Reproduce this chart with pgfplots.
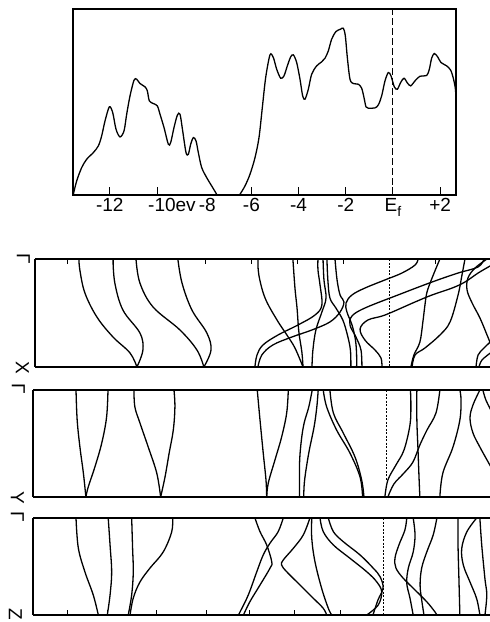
\documentclass[border=0pt]{standalone}
\usepackage{fontspec}
\setmainfont{Liberation Sans}
\usepackage{pgfplots}
\pgfplotsset{compat=1.18}
\pgfplotscreateplotcyclelist{bandlist}{{black,line width=1.3pt,smooth,tension=0.6,mark=none}\\}
\pgfplotsset{
  band/.style={
    scale only axis, anchor=south west,
    ymin=0, ymax=1, y dir=reverse,
    axis x line=box, axis y line=left,
    axis line style={-, line width=1.1pt},
    x axis line style={-}, y axis line style={-},
    ytick=\empty, xticklabels={},
    tick align=inside, major tick length=5pt,
    tick style={line width=1pt, black},
    cycle list name=bandlist,
  },
}
\begin{document}
\begin{tikzpicture}[x=1pt,y=1pt]
\useasboundingbox (0pt,0pt) rectangle (490pt,622pt);

% ---------------- density of states ----------------
\begin{axis}[
  at={(73pt,427pt)}, anchor=south west, scale only axis,
  width=383pt, height=186pt,
  xmin=-13.56, xmax=2.67, ymin=-0.4, ymax=101,
  ytick=\empty,
  xtick={-12,-10,-6,-4,-2,0,2},
  xticklabels={-12,,-6,-4,-2,{E\raisebox{-5pt}{\fontsize{14}{16}\selectfont f}},+2},
  extra x ticks={-8.94}, extra x tick labels={-10ev\,-8},
  extra x tick style={major tick length=0pt},
  xtick pos=left, tick align=inside, major tick length=8pt,
  tick style={line width=1pt, black},
  axis line style={line width=1.1pt},
  xticklabel style={font=\fontsize{19}{22}\selectfont},
]
\addplot[black, line width=1.3pt, smooth, tension=0.5, mark=none] coordinates {
(-13.545,0) (-13.404,7.27) (-13.192,14.55) (-12.980,19.09) (-12.698,22.73)
(-12.486,26.36) (-12.345,31.82) (-12.203,40.0) (-12.020,47.64) (-11.878,44.55)
(-11.737,35.45) (-11.568,31.27) (-11.398,34.55) (-11.285,43.64) (-11.144,53.64)
(-10.975,62.18) (-10.862,62.73) (-10.720,60.36) (-10.508,58.55) (-10.410,56.36)
(-10.325,50.91) (-10.155,49.45) (-9.986,48.18) (-9.873,43.64) (-9.703,36.36)
(-9.520,27.27) (-9.421,28.18) (-9.280,36.36) (-9.138,43.09) (-9.025,43.64)
(-8.912,34.55) (-8.771,22.73) (-8.672,21.82) (-8.573,27.27) (-8.460,30.91)
(-8.347,29.09) (-8.249,22.73) (-8.107,14.55) (-7.895,9.09) (-7.684,4.55)
(-7.472,0) };
\addplot[black, line width=1.3pt, mark=none] coordinates {(-7.472,0) (-6.483,0)};
\addplot[black, line width=1.3pt, smooth, tension=0.5, mark=none] coordinates {
(-6.483,0) (-6.271,4.55) (-6.059,10.91) (-5.847,20.0) (-5.678,30.91)
(-5.537,47.27) (-5.395,63.64) (-5.212,76.0) (-5.071,74.55) (-4.929,68.18)
(-4.760,63.27) (-4.619,64.55) (-4.477,70.0) (-4.336,74.91) (-4.223,76.0)
(-4.082,71.82) (-3.941,62.73) (-3.828,53.64) (-3.729,51.82) (-3.588,57.27)
(-3.446,65.45) (-3.234,70.0) (-3.023,72.18) (-2.881,74.18) (-2.740,78.18)
(-2.599,84.55) (-2.415,88.73) (-2.218,90.0) (-2.105,90.55) (-2.020,86.36)
(-1.935,74.55) (-1.822,62.73) (-1.681,60.36) (-1.469,60.0) (-1.328,57.82)
(-1.229,52.73) (-1.144,47.64) (-1.045,46.91) (-0.763,47.09) (-0.621,48.73)
(-0.480,53.64) (-0.339,61.82) (-0.198,66.36) (-0.085,64.55) (0.056,58.55)
(0.184,57.27) (0.325,60.91) (0.466,63.27) (0.607,60.73) (0.749,59.09)
(0.932,61.82) (1.144,64.36) (1.427,64.73) (1.540,68.18) (1.638,74.18)
(1.751,76.73) (1.893,74.91) (2.034,71.82) (2.274,70.0) (2.444,67.64)
(2.556,63.27) (2.641,57.82) (2.669,52.73) };
\addplot[black, line width=1pt, dash pattern=on 7pt off 3pt, mark=none] coordinates {(0,-0.4) (0,101)};
\end{axis}

% ---------------- Gamma - X ----------------
\begin{axis}[band, at={(35pt,255pt)}, width=455pt, height=108pt,
  xmin=-15.43, xmax=4.348, xtick={-14,-12,-8,-6,-4,-2,2}, xtick pos=right]
\addplot coordinates {(-13.52,0) (-13.48,0.102) (-13.26,0.315) (-12.74,0.537) (-12.04,0.722) (-11.30,0.870) (-11.00,1)};
\addplot coordinates {(-12.04,0) (-11.96,0.222) (-11.61,0.472) (-10.87,0.685) (-10.74,0.843) (-11.00,1)};
\addplot coordinates {(-11.04,0) (-10.87,0.222) (-10.30,0.444) (-9.13,0.657) (-8.39,0.843) (-8.09,1)};
\addplot coordinates {(-9.22,0) (-9.04,0.222) (-8.61,0.472) (-7.96,0.685) (-7.78,0.843) (-8.09,1)};
\addplot coordinates {(-5.74,0) (-5.70,0.148) (-5.43,0.361) (-4.91,0.565) (-4.48,0.704) (-4.13,0.824) (-3.78,1)};
\addplot coordinates {(-4.22,0) (-4.13,0.269) (-4.04,0.454) (-3.96,0.676) (-3.83,0.861) (-3.78,1)};
\addplot coordinates {(-5.87,1) (-5.78,0.889) (-5.52,0.796) (-4.87,0.704) (-4.00,0.611) (-3.26,0.519) (-2.96,0.426) (-3.04,0.241) (-3.13,0.102) (-3.13,0)};
\addplot coordinates {(-5.74,1) (-5.57,0.889) (-5.09,0.796) (-4.26,0.722) (-3.39,0.657) (-2.61,0.583) (-2.17,0.491) (-2.00,0.398) (-2.17,0.333) (-2.30,0.194) (-2.39,0)};
\addplot coordinates {(-2.74,0) (-2.70,0.194) (-2.61,0.361) (-2.35,0.454) (-2.05,0.565) (-1.85,0.704) (-1.72,0.843) (-1.70,1)};
\addplot coordinates {(-2.91,0) (-2.87,0.194) (-2.78,0.361) (-2.96,0.491) (-3.22,0.657) (-3.35,0.843) (-3.39,1)};
\addplot coordinates {(1.22,0) (1.09,0.056) (0.52,0.130) (-0.22,0.194) (-1.09,0.269) (-1.65,0.333) (-1.91,0.407) (-1.87,0.491) (-1.65,0.611) (-1.50,0.750) (-1.45,0.889) (-1.45,1)};
\addplot coordinates {(4.09,0) (3.83,0.074) (2.96,0.130) (1.83,0.213) (0.35,0.333) (-1.09,0.454) (-1.65,0.528) (-1.74,0.611) (-1.48,0.722) (-1.26,0.843) (-1.22,1)};
\addplot coordinates {(4.35,0.065) (3.83,0.130) (3.26,0.213) (2.70,0.269) (1.83,0.333) (1.09,0.398) (-0.22,0.519) (-0.96,0.565) (-1.30,0.648) (-1.09,0.750) (-0.65,0.843) (-0.39,0.917) (-0.35,1)};
\addplot coordinates {(0.96,1) (1.09,0.889) (1.52,0.824) (2.17,0.704) (2.61,0.583) (2.96,0.333) (3.13,0.148) (3.26,0)};
\addplot coordinates {(2.17,0) (1.83,0.176) (1.61,0.306) (1.52,0.426) (1.43,0.583) (1.30,0.769) (1.04,0.889) (0.91,1)};
\addplot coordinates {(4.22,0) (3.70,0.083) (3.39,0.176) (3.35,0.287) (3.57,0.407) (3.91,0.546) (4.22,0.704) (4.40,0.80)};
\addplot coordinates {(3.74,1) (3.83,0.889) (4.09,0.824) (4.40,0.76)};
\addplot coordinates {(3.87,1) (4.0,0.935) (4.40,0.865)};
\addplot[black, line width=1pt, dash pattern=on 2pt off 1.5pt, mark=none] coordinates {(0,0) (0,1)};
\end{axis}

% ---------------- Gamma - Y ----------------
\begin{axis}[band, at={(33pt,125pt)}, width=457pt, height=107pt,
  xmin=-15.39, xmax=4.48, xtick=\empty]
\addplot coordinates {(-13.52,0) (-13.47,0.280) (-13.35,0.533) (-13.20,0.776) (-13.09,1)};
\addplot coordinates {(-12.13,0) (-12.19,0.252) (-12.40,0.495) (-12.70,0.720) (-12.99,0.907) (-13.09,1)};
\addplot coordinates {(-11.0,0) (-10.96,0.159) (-10.74,0.308) (-10.38,0.533) (-10.01,0.776) (-9.84,1)};
\addplot coordinates {(-9.26,0) (-9.22,0.159) (-9.29,0.374) (-9.47,0.589) (-9.65,0.813) (-9.84,1)};
\addplot coordinates {(-5.64,0) (-5.52,0.280) (-5.38,0.589) (-5.26,0.841) (-5.23,1)};
\addplot coordinates {(-4.29,0) (-4.36,0.215) (-4.58,0.439) (-4.87,0.654) (-5.16,0.869) (-5.23,1)};
\addplot coordinates {(-3.25,0) (-3.40,0.159) (-3.60,0.308) (-3.72,0.467) (-3.80,0.682) (-3.80,1)};
\addplot coordinates {(-2.99,0) (-3.05,0.159) (-3.17,0.346) (-3.40,0.589) (-3.58,0.841) (-3.62,1)};
\addplot coordinates {(-2.77,0) (-2.62,0.159) (-2.19,0.374) (-1.61,0.589) (-1.17,0.813) (-1.06,1)};
\addplot coordinates {(-2.48,0) (-2.33,0.215) (-1.90,0.402) (-1.39,0.626) (-1.10,0.841) (-1.0,1)};
\addplot coordinates {(-0.09,1) (0.04,0.841) (0.39,0.701) (0.74,0.561) (1.0,0.327) (1.04,0.140) (1.02,0)};
\addplot coordinates {(1.30,0) (1.30,0.280) (1.35,0.561) (1.39,0.794) (1.43,1)};
\addplot coordinates {(0.04,1) (0.30,0.879) (0.74,0.776) (1.13,0.673) (1.43,0.514) (1.74,0.374) (2.13,0.215) (2.30,0)};
\addplot coordinates {(2.30,1) (2.43,0.776) (2.87,0.533) (3.17,0.280) (3.22,0.093) (3.17,0)};
\addplot coordinates {(4.04,0) (3.74,0.140) (3.61,0.262) (3.74,0.402) (4.04,0.533) (4.35,0.654) (4.55,0.73)};
\addplot coordinates {(4.17,0) (4.30,0.093) (4.55,0.2)};
\addplot[black, line width=1pt, dash pattern=on 2pt off 1.5pt, mark=none] coordinates {(0,0) (0,0.85)};
\end{axis}

% ---------------- Gamma - Z ----------------
\begin{axis}[band, at={(33pt,7pt)}, width=457pt, height=97pt,
  xmin=-15.23, xmax=4.64, xtick={-13.75,-11.97,-9.84,-7.67,-5.8,-3.88,-1.88}, xtick pos=left]
\addplot coordinates {(-13.36,0) (-13.26,0.309) (-12.97,0.557) (-12.61,0.794) (-12.39,1)};
\addplot coordinates {(-11.96,0) (-11.88,0.278) (-11.81,0.557) (-11.88,0.794) (-12.0,1)};
\addplot coordinates {(-10.94,0) (-10.90,0.309) (-10.87,0.557) (-10.94,0.794) (-11.09,1)};
\addplot coordinates {(-9.16,0) (-9.20,0.144) (-9.57,0.351) (-10.14,0.515) (-10.58,0.660) (-10.87,0.825) (-11.01,1)};
\addplot coordinates {(-5.58,0) (-5.36,0.141) (-5.07,0.278) (-4.85,0.451) (-4.92,0.515) (-5.36,0.691) (-5.80,0.863) (-6.08,1)};
\addplot coordinates {(-4.35,0) (-4.57,0.141) (-4.93,0.261) (-5.22,0.381) (-5.50,0.554) (-5.87,0.794) (-6.23,0.969) (-6.30,1)};
\addplot coordinates {(-3.19,0) (-3.48,0.175) (-3.91,0.312) (-4.35,0.433) (-4.42,0.485) (-4.20,0.554) (-3.62,0.691) (-3.04,0.828) (-2.61,0.931) (-2.46,1)};
\addplot coordinates {(-3.11,0) (-3.11,0.209) (-2.97,0.451) (-2.68,0.725) (-2.39,0.931) (-2.24,1)};
\addplot coordinates {(-2.75,0) (-2.61,0.141) (-2.17,0.278) (-1.45,0.415) (-0.72,0.554) (-0.29,0.657) (-0.07,0.760) (-0.22,0.897) (-0.72,1)};
\addplot coordinates {(-2.39,0) (-2.17,0.141) (-1.74,0.244) (-1.01,0.381) (-0.43,0.519) (-0.14,0.605) (-0.01,0.722) (-0.23,0.845) (-0.45,1)};
\addplot coordinates {(1.02,0) (0.94,0.124) (0.68,0.278) (0.51,0.412) (0.55,0.515) (0.86,0.619) (1.38,0.742) (1.90,0.866) (2.25,0.969) (2.33,1)};
\addplot coordinates {(1.30,0) (1.38,0.175) (1.30,0.351) (1.09,0.515) (1.02,0.670) (1.16,0.825) (1.30,1)};
\addplot coordinates {(2.33,0) (2.17,0.175) (1.89,0.351) (1.67,0.515) (1.60,0.691) (1.67,0.845) (1.77,1)};
\addplot coordinates {(3.25,0) (3.25,0.278) (3.29,0.639) (3.33,1)};
\addplot coordinates {(4.06,0) (3.63,0.144) (3.41,0.316) (3.48,0.485) (3.77,0.660) (4.06,0.832) (4.20,1)};
\addplot coordinates {(4.20,0) (4.28,0.278) (4.42,0.626) (4.50,0.794) (4.42,1)};
\addplot[black, line width=1pt, dash pattern=on 2pt off 1.5pt, mark=none] coordinates {(0,0) (0,1)};
\end{axis}

% ---------------- k-point labels ----------------
\begin{scope}[every node/.style={rotate=-90, inner sep=0pt, font=\fontsize{19}{22}\selectfont}]
\node at (23.5pt,363pt) {Γ};
\node at (22.5pt,254pt) {X};
\node at (18.5pt,233.5pt) {Γ};
\node at (17.5pt,124.5pt) {Y};
\node at (17.5pt,105pt) {Γ};
\node at (15.5pt,8pt) {Z};
\end{scope}
\end{tikzpicture}
\end{document}
